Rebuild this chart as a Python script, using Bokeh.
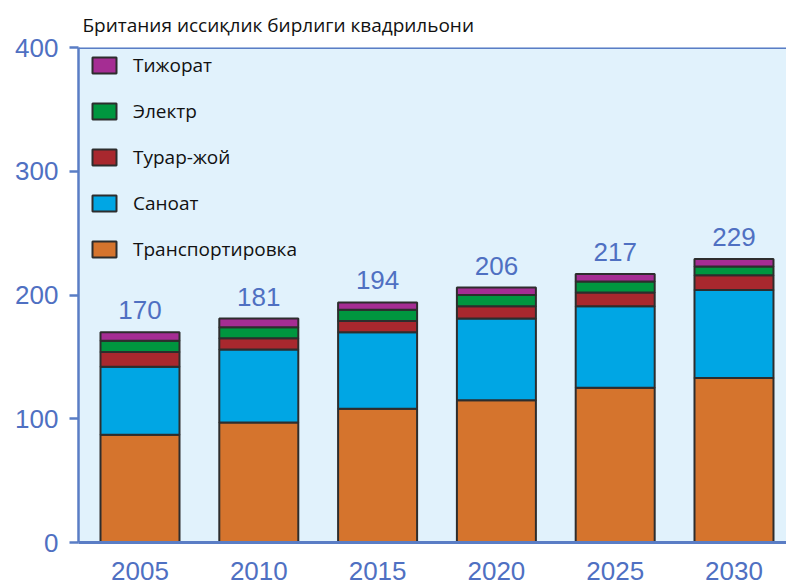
from bokeh.plotting import figure
from bokeh.models import (Range1d, FixedTicker, Legend, LegendItem, Span, ColumnDataSource)
from bokeh.core.properties import value
from bokeh.embed import file_html
from bokeh.resources import INLINE

years = ["2005", "2010", "2015", "2020", "2025", "2030"]
transport = [87, 97, 108, 115, 125, 133]
industry = [55, 59, 62, 66, 66, 71]
residential = [12, 9, 9, 10, 11, 12]
electric = [9, 9, 9, 9, 9, 7]
commercial = [7, 7, 6, 6, 6, 6]
totals = [170, 181, 194, 206, 217, 229]

series_names = ["Транспортировка", "Саноат", "Турар-жой", "Электр", "Тижорат"]
series_keys = ["transport", "industry", "residential", "electric", "commercial"]
colors = ["#d5742d", "#00a6e4", "#a8282e", "#00963f", "#a52d93"]
y_ticks = [0, 100, 200, 300, 400]
title_text = "Британия иссиқлик бирлиги квадрильони"

AXIS = "#5a7dc5"
LABEL = "#4f70c2"

idx = list(range(len(years)))
src = ColumnDataSource(dict(x=idx, transport=transport, industry=industry,
                            residential=residential, electric=electric,
                            commercial=commercial, total=totals,
                            total_txt=[str(t) for t in totals]))

p = figure(width=786, height=586, output_backend="svg", toolbar_location=None,
           x_range=Range1d(-0.5177, 5.442), y_range=Range1d(0, 400),
           min_border_left=78, min_border_right=0, min_border_top=47, min_border_bottom=44,
           background_fill_color="#e1f2fc", border_fill_color="white",
           outline_line_color=None, title=title_text)

p.title.text_font = "Open Sans"
p.title.text_font_size = "19px"
p.title.text_font_style = "normal"
p.title.text_color = "#111111"
p.title.align = "left"
p.title.offset = 4
p.title.standoff = 19

renderers = p.vbar_stack(series_keys, x="x", width=0.665, source=src, color=colors,
                         line_color="#2d2d2d", line_width=2)

p.text(x="x", y="total", text="total_txt", source=src, text_align="center",
       text_baseline="alphabetic", y_offset=-22, text_font=value("Liberation Sans"),
       text_font_size="26px", text_color=LABEL)

items = [LegendItem(label=series_names[i], renderers=[renderers[i]]) for i in reversed(range(5))]
legend = Legend(items=items, location=(11, 280), padding=0, margin=0, spacing=20,
                glyph_width=30, glyph_height=20, label_height=20, label_standoff=14,
                label_text_font="Open Sans", label_text_font_size="19px",
                label_text_color="#111111", background_fill_alpha=0,
                border_line_color=None)
p.add_layout(legend)

p.xgrid.visible = False
p.ygrid.visible = False

p.xaxis.ticker = FixedTicker(ticks=idx)
p.xaxis.major_label_overrides = {i: y for i, y in enumerate(years)}
p.xaxis.major_tick_line_color = None
p.xaxis.minor_tick_line_color = None
p.xaxis.axis_line_color = AXIS
p.xaxis.axis_line_width = 3
p.xaxis.major_label_standoff = 13
p.xaxis.major_label_text_font = "Liberation Sans"
p.xaxis.major_label_text_font_size = "26px"
p.xaxis.major_label_text_color = LABEL

p.yaxis.ticker = FixedTicker(ticks=y_ticks)
p.yaxis.minor_tick_line_color = None
p.yaxis.major_tick_in = 0
p.yaxis.major_tick_out = 9
p.yaxis.major_tick_line_color = AXIS
p.yaxis.major_tick_line_width = 2.5
p.yaxis.axis_line_color = AXIS
p.yaxis.axis_line_width = 2.5
p.yaxis.major_label_standoff = 11
p.yaxis.major_label_text_font = "Liberation Sans"
p.yaxis.major_label_text_font_size = "26px"
p.yaxis.major_label_text_color = LABEL

p.add_layout(Span(location=400, dimension="width", line_color=AXIS, line_width=3))

open("out.html", "w").write(file_html(p, INLINE))
